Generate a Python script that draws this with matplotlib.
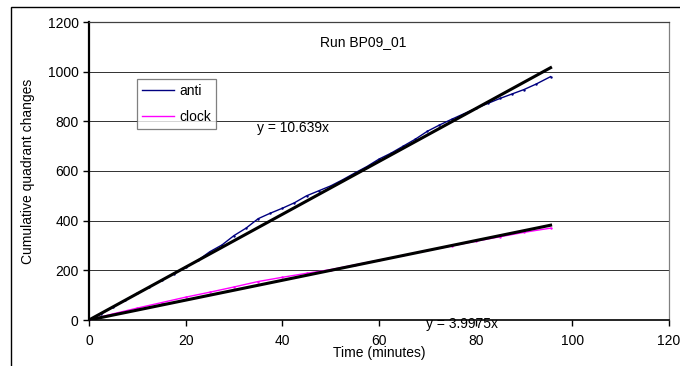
# Run BP09_01: cumulative quadrant changes vs time, with linear fits through the origin

import matplotlib.pyplot as plt
from matplotlib.patches import Rectangle

plt.rcParams['font.family'] = ['Liberation Sans', 'DejaVu Sans']

# values
time_anti = [0, 2.5, 5, 7.5, 10, 12.5, 15, 17.5, 20, 22.5, 25, 27.5, 30, 32.5, 35,
             37.5, 40, 42.5, 45, 47.5, 50, 52.5, 55, 57.5, 60, 62.5, 65, 67.5, 70,
             72.5, 75, 77.5, 80, 82.5, 85, 87.5, 90, 92.5, 95.5]
anti = [0, 25, 52, 80, 107, 133, 160, 187, 213, 240, 275, 302, 340, 370, 408,
        430, 450, 472, 500, 520, 540, 565, 592, 618, 648, 672, 700, 728, 760,
        785, 808, 830, 852, 872, 892, 910, 928, 950, 980]

time_clock = [0, 5, 10, 15, 20, 25, 30, 35, 40, 45, 50, 55, 60, 65, 70, 75, 80,
              85, 90, 95.5]
clock = [0, 25, 48, 70, 92, 112, 133, 155, 172, 188, 203, 222, 241, 260, 280,
         298, 317, 335, 353, 370]

# trendline slopes as printed on the chart
slope_anti = 10.639
slope_clock = 3.9975
fit_end = 95.5

fig = plt.figure(figsize=(6.8, 3.66), dpi=100)
ax = fig.add_axes([89 / 680, 1 - 320 / 366, 580 / 680, 298 / 366])

# outer chart border (runs off the right and bottom edges)
fig.patches.append(Rectangle((11 / 680, -0.1), 1.2, 1.1 - 7 / 366,
                             transform=fig.transFigure, fill=False,
                             edgecolor='black', linewidth=1.0))

for v in [200, 400, 600, 800, 1000]:
    ax.axhline(v, color='#303030', linewidth=0.7, zorder=1)

ax.plot(time_anti, anti, color='#000080', linewidth=1.0, marker='.',
        markersize=1.5, label='anti', zorder=2)
ax.plot(time_clock, clock, color='#ff00ff', linewidth=1.0, marker='.',
        markersize=1.5, label='clock', zorder=2)

ax.plot([0, fit_end], [0, slope_anti * fit_end], color='black', linewidth=2.2, zorder=3)
ax.plot([0, fit_end], [0, slope_clock * fit_end], color='black', linewidth=2.2, zorder=3)

ax.set_xlim(0, 120)
ax.set_ylim(0, 1200)
ax.set_xticks(range(0, 121, 20))
ax.set_yticks(range(0, 1201, 200))
ax.tick_params(direction='out', length=4, width=1, labelsize=10)
ax.tick_params(axis='x', pad=6)

ax.spines['left'].set_linewidth(1.6)
ax.spines['bottom'].set_linewidth(1.2)
ax.spines['top'].set_color('#404040')
ax.spines['top'].set_linewidth(0.9)
ax.spines['right'].set_color('#808080')
ax.spines['right'].set_linewidth(0.9)

ax.set_xlabel('Time (minutes)', fontsize=10, labelpad=-1)
ax.set_ylabel('Cumulative quadrant changes', fontsize=10, labelpad=9)

ax.text(56.7, 1120, 'Run BP09_01', fontsize=10, ha='center', va='center')
ax.text(34.8, 773, 'y = 10.639x', fontsize=10, ha='left', va='center')
ax.text(69.7, -18, 'y = 3.9975x', fontsize=10, ha='left', va='center', clip_on=False)

leg = ax.legend(loc='upper left', bbox_to_anchor=(48 / 580, 1 - 57 / 298),
                fontsize=10, frameon=True, fancybox=False, borderpad=0.35,
                handlelength=2.3, handletextpad=0.4, labelspacing=0.85,
                borderaxespad=0)
leg.get_frame().set_edgecolor('#606060')
leg.get_frame().set_linewidth(0.9)
for h in leg.get_lines():
    h.set_marker('')

fig.savefig('out.png', dpi=100)
